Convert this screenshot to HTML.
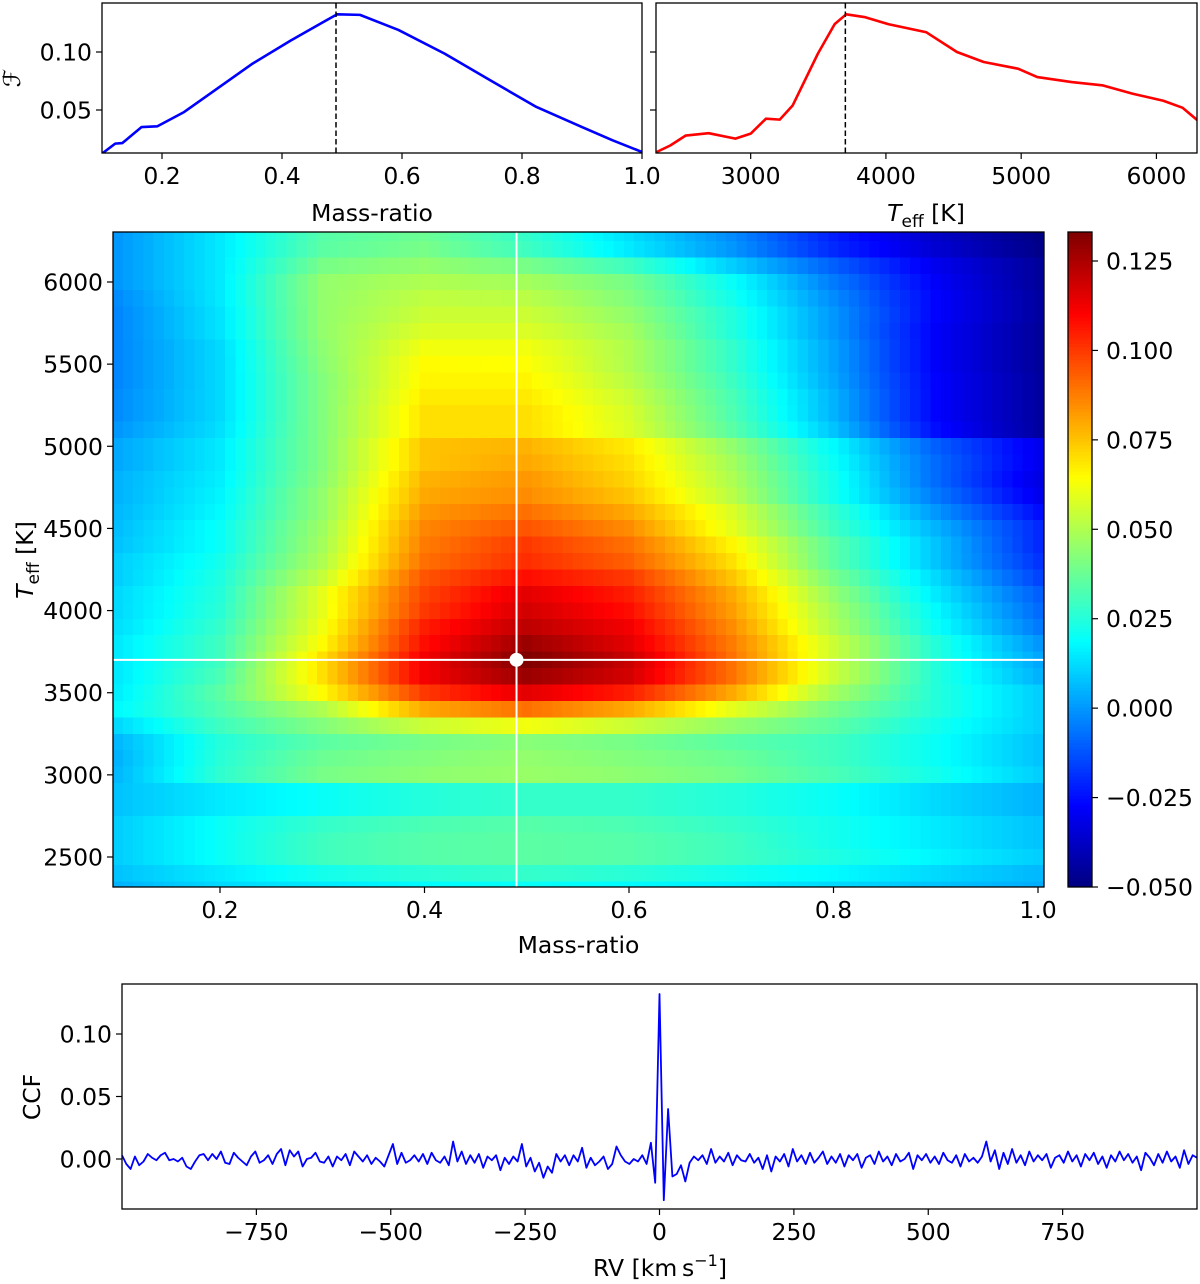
<!DOCTYPE html>
<html><head><meta charset="utf-8">
<style>
html,body{margin:0;padding:0;background:#fff;}
svg{display:block;font-family:"DejaVu Sans","Liberation Sans",sans-serif;}
text{font-size:23.5px;fill:#000;}
</style></head>
<body>
<svg id="fig" width="1200" height="1284" viewBox="0 0 1200 1284" xmlns="http://www.w3.org/2000/svg"></svg>
<script>
// ---------- DATA ----------
const qMarg = [0.1,0.122,0.134,0.166,0.192,0.237,0.288,0.351,0.415,0.466,0.492,0.530,0.594,0.671,0.747,0.824,0.900,0.951,1.0];
const fqMarg = [0.0124,0.021,0.0215,0.0353,0.0359,0.0483,0.067,0.090,0.110,0.125,0.1325,0.132,0.119,0.0986,0.0756,0.0526,0.0353,0.0239,0.0138];
const tMarg = [2305,2407,2520,2689,2887,3000,3113,3215,3311,3497,3621,3706,3847,4017,4299,4525,4723,4977,5119,5373,5599,5825,6051,6192,6305];
const ftMarg = [0.0138,0.0195,0.028,0.030,0.0253,0.0296,0.0425,0.0417,0.054,0.0986,0.124,0.1325,0.130,0.124,0.117,0.100,0.0914,0.0856,0.0784,0.0741,0.0713,0.064,0.058,0.052,0.041];
const bestQ = 0.49;
const bestT = 3700;
// heatmap columns (mass ratio) and rows (Teff, top to bottom)
const hmQ = [0.1,0.2,0.3,0.4,0.5,0.6,0.7,0.8,0.9,1.0];
const hmT = [6300,6200,6100,6000,5900,5800,5700,5600,5500,5400,5300,5200,5100,5000,4900,4800,4700,4600,4500,4400,4300,4200,4100,4000,3900,3800,3700,3600,3500,3400,3300,3200,3100,3000,2900,2800,2700,2600,2500,2400,2300];
const hmF = [
[0.0,0.015,0.034,0.038,0.028,0.013,-0.002,-0.022,-0.037,-0.049],
[0.0,0.015,0.035,0.04,0.03,0.015,0.0,-0.02,-0.035,-0.048],
[0.0,0.015,0.04,0.045,0.04,0.03,0.01,-0.01,-0.03,-0.045],
[0.0,0.015,0.045,0.05,0.048,0.04,0.02,-0.005,-0.028,-0.045],
[-0.002,0.015,0.045,0.053,0.052,0.042,0.022,-0.002,-0.027,-0.044],
[-0.003,0.014,0.045,0.055,0.055,0.045,0.025,0.0,-0.027,-0.044],
[-0.003,0.014,0.045,0.058,0.058,0.048,0.025,0.0,-0.028,-0.045],
[-0.003,0.012,0.044,0.062,0.062,0.05,0.028,0.002,-0.028,-0.045],
[-0.003,0.012,0.043,0.065,0.064,0.05,0.028,0.002,-0.028,-0.045],
[-0.003,0.012,0.042,0.066,0.066,0.052,0.03,0.003,-0.027,-0.044],
[-0.002,0.012,0.042,0.068,0.068,0.055,0.032,0.005,-0.027,-0.044],
[-0.002,0.012,0.042,0.07,0.07,0.057,0.033,0.005,-0.027,-0.044],
[0.0,0.013,0.042,0.07,0.07,0.058,0.035,0.008,-0.025,-0.044],
[0.003,0.015,0.042,0.075,0.078,0.068,0.045,0.018,-0.01,-0.03],
[0.003,0.015,0.042,0.075,0.08,0.07,0.048,0.02,-0.008,-0.03],
[0.005,0.016,0.043,0.078,0.083,0.072,0.05,0.022,-0.008,-0.032],
[0.005,0.017,0.045,0.08,0.085,0.075,0.052,0.022,-0.005,-0.03],
[0.006,0.018,0.045,0.083,0.09,0.08,0.058,0.028,0.0,-0.025],
[0.007,0.02,0.047,0.086,0.095,0.085,0.06,0.03,0.005,-0.02],
[0.008,0.02,0.048,0.088,0.1,0.09,0.066,0.035,0.008,-0.02],
[0.01,0.022,0.05,0.09,0.102,0.093,0.07,0.035,0.008,-0.018],
[0.01,0.024,0.054,0.095,0.108,0.1,0.075,0.04,0.012,-0.015],
[0.012,0.025,0.06,0.098,0.115,0.105,0.08,0.045,0.015,-0.01],
[0.012,0.026,0.06,0.1,0.118,0.108,0.082,0.048,0.018,-0.008],
[0.013,0.028,0.062,0.105,0.122,0.112,0.085,0.05,0.02,-0.005],
[0.015,0.03,0.065,0.108,0.128,0.115,0.088,0.055,0.025,0.0],
[0.015,0.03,0.07,0.112,0.133,0.12,0.09,0.055,0.025,0.003],
[0.015,0.032,0.07,0.112,0.128,0.118,0.09,0.055,0.025,0.005],
[0.016,0.035,0.065,0.1,0.115,0.105,0.08,0.048,0.025,0.01],
[0.018,0.033,0.05,0.08,0.09,0.08,0.06,0.04,0.025,0.01],
[0.012,0.03,0.042,0.055,0.062,0.055,0.045,0.035,0.022,0.01],
[0.006,0.025,0.035,0.04,0.043,0.04,0.035,0.03,0.02,0.008],
[0.005,0.026,0.038,0.042,0.045,0.042,0.038,0.03,0.02,0.008],
[0.006,0.027,0.04,0.044,0.046,0.044,0.04,0.032,0.022,0.01],
[0.008,0.015,0.02,0.025,0.028,0.028,0.025,0.02,0.012,0.005],
[0.008,0.015,0.02,0.025,0.028,0.028,0.025,0.02,0.012,0.005],
[0.01,0.02,0.028,0.032,0.034,0.032,0.028,0.022,0.015,0.008],
[0.01,0.02,0.03,0.034,0.035,0.034,0.03,0.022,0.015,0.008],
[0.01,0.02,0.03,0.034,0.035,0.034,0.03,0.024,0.017,0.01],
[0.008,0.015,0.022,0.026,0.028,0.026,0.022,0.018,0.012,0.006],
[0.005,0.012,0.015,0.018,0.02,0.018,0.016,0.012,0.008,0.004]
];
// CCF: rv from -1000 step 8
const rvStart = -1000, rvStep = 8;
const ccfMilli = [3,-4,-8,2,-5,-2,4,1,-1,3, 5,-1,0,-2,1,-6,-8,-2,3,4, -1,4,0,6,-3,-4,5,1,-2,-5,
2,6,-3,-1,3,-4,4,8,-5,7, 2,6,-6,0,1,5,-2,-3,2,-6, 2,-1,4,-5,6,2,-2,3,-4,1,
-2,-6,3,12,-4,5,-3,-1,3,-2, 4,-4,5,-1,-3,2,-5,14,-2,6, -4,3,-3,4,-7,2,-1,3,-9,1,
-4,2,-2,12,-6,1,-10,-3,-15,-6, -11,4,-2,3,-5,3,-2,9,-7,1, -5,-2,2,-8,-4,10,3,-2,-4,0,
-2,3,-4,13,-19,132,-33,40,-14,-12, -5,-18,-3,2,-1,3,-4,8,-3,2, -2,5,-5,3,-1,-2,4,-3,1,-8,
3,-10,2,-2,4,-6,8,-2,3,-4, 5,-3,1,6,-4,2,-3,4,-6,3, -1,4,-7,1,3,-4,6,-2,2,-5,
4,-2,0,5,-8,3,-1,4,-3,2, -4,5,-1,-3,3,-6,4,-2,1,-3, 2,14,-2,7,-8,5,-4,8,-3,3,
-5,6,-2,3,-1,4,-7,1,3,-3, 6,-2,3,-6,4,-1,5,-4,2,-7, 3,-2,6,-1,4,-3,2,-9,5,1,
-5,4,-3,6,-2,2,-7,7,-4,3,1];
const topQTicks = [0.2,0.4,0.6,0.8,1.0];
const topTTicks = [3000,4000,5000,6000];
const topFTicks = [0.05,0.10];
const mainQTicks = [0.2,0.4,0.6,0.8,1.0];
const mainTTicks = [2500,3000,3500,4000,4500,5000,5500,6000];
const cbTicks = [-0.05,-0.025,0,0.025,0.05,0.075,0.1,0.125];
const rvTicks = [-750,-500,-250,0,250,500,750];
const ccfTicks = [0.0,0.05,0.10];

// ---------- helpers ----------
const NS="http://www.w3.org/2000/svg";
const svg=document.getElementById('fig');
function el(tag,attrs,parent){const e=document.createElementNS(NS,tag);for(const k in attrs)e.setAttribute(k,attrs[k]);(parent||svg).appendChild(e);return e;}
function lin(d0,d1,r0,r1){return v=>r0+(v-d0)/(d1-d0)*(r1-r0);}
function fmt(v,d){let s=v.toFixed(d);if(v<0)s='\u2212'+(-v).toFixed(d);return s;}
function jet(t){t=Math.max(0,Math.min(1,t));const c=x=>Math.round(255*Math.max(0,Math.min(1,x)));
 return `rgb(${c(1.5-Math.abs(4*t-3))},${c(1.5-Math.abs(4*t-2))},${c(1.5-Math.abs(4*t-1))})`;}
function txt(x,y,s,anchor,parent){const t=el('text',{x:x,y:y,'text-anchor':anchor||'middle'},parent);t.textContent=s;return t;}
function frame(x0,y0,x1,y1,name){const r=el('rect',{x:x0,y:y0,width:x1-x0,height:y1-y0,fill:'none',stroke:'#000','stroke-width':1.3});

return r;}
function xtick(x,y,lab,name){const g=el('g',{});


el('line',{x1:x,x2:x,y1:y,y2:y+6,stroke:'#000','stroke-width':1.2},g);if(lab!==null)txt(x,y+31,lab,'middle',g);}
function ytick(x,y,lab,name){const g=el('g',{});


el('line',{x1:x-6,x2:x,y1:y,y2:y,stroke:'#000','stroke-width':1.2},g);if(lab!==null)txt(x-10,y+8.5,lab,'end',g);}
function path(xs,ys,sx,sy,color,w,name,clip){let d='';for(let i=0;i<xs.length;i++)d+=(i?'L':'M')+sx(xs[i]).toFixed(2)+','+sy(ys[i]).toFixed(2);
const p=el('path',{d:d,fill:'none',stroke:color,'stroke-width':w,'stroke-linejoin':'round'});if(clip)p.setAttribute('clip-path',clip);

return p;}
const defs=el('defs',{});
function clipRect(id,x0,y0,x1,y1){const c=el('clipPath',{id:id},defs);el('rect',{x:x0,y:y0,width:x1-x0,height:y1-y0},c);}

// ---------- top-left: F vs mass ratio ----------
{const X0=102,X1=642,Y0=3,Y1=153;
 const sx=lin(0.1,1.0,X0,X1), sy=lin(0.05,0.10,110,52);
 clipRect('c1',X0,Y0,X1,Y1);
 path(qMarg,fqMarg,sx,sy,'#0000ff',2.6,'mass-ratio-curve','url(#c1)');
 const dl=el('line',{x1:sx(bestQ),x2:sx(bestQ),y1:Y0,y2:Y1,stroke:'#000','stroke-width':1.5,'stroke-dasharray':'5.5,3'});
 
 
 frame(X0,Y0,X1,Y1,'mass-ratio-panel');
 topQTicks.forEach(v=>xtick(sx(v),Y1,v.toFixed(1),'x-tick'));
 topFTicks.forEach(v=>ytick(X0,sy(v),v.toFixed(2),'y-tick'));
 const xl=txt((X0+X1)/2,221,'Mass-ratio');
 
 
 const yl=txt(0,0,'\u2131');yl.setAttribute('transform','translate(20,78) rotate(-90)');yl.setAttribute('font-style','italic');
 
 
}
// ---------- top-right: F vs Teff ----------
{const X0=656,X1=1197,Y0=3,Y1=153;
 const sx=lin(2300,6300,X0,X1), sy=lin(0.05,0.10,110,52);
 clipRect('c2',X0,Y0,X1,Y1);
 path(tMarg,ftMarg,sx,sy,'#ff0000',2.6,'teff-curve','url(#c2)');
 const dl=el('line',{x1:sx(bestT),x2:sx(bestT),y1:Y0,y2:Y1,stroke:'#000','stroke-width':1.5,'stroke-dasharray':'5.5,3'});
 
 
 frame(X0,Y0,X1,Y1,'teff-panel');
 topTTicks.forEach(v=>xtick(sx(v),Y1,String(v),'x-tick'));
 topFTicks.forEach(v=>ytick(X0,sy(v),null,'y-tick'));
 const g=el('text',{x:926,y:221,'text-anchor':'middle'});
 g.innerHTML='<tspan font-style="italic">T</tspan><tspan font-size="17" dy="6">eff</tspan><tspan dy="-6"> [K]</tspan>';
 
 
}
// ---------- main heatmap ----------
{const X0=113,X1=1044,Y0=232,Y1=887;
 const sx=lin(0.2,1.0,220,1038), sy=lin(2500,6000,857,282);
 const vmin=-0.05,vmax=0.133;
 clipRect('c3',X0,Y0,X1,Y1);
 const hg=el('g',{'clip-path':'url(#c3)','shape-rendering':'crispEdges'});
 
 
 const dq=0.01, dT=hmT[0]-hmT[1];
 hmT.forEach((T,r)=>{
  const yTop=sy(T+dT/2), yBot=sy(T-dT/2);
  for(let k=0;k<=90;k++){
   const q=0.1+k*dq;
   let j=Math.min(hmQ.length-2,Math.floor((q-hmQ[0])/(hmQ[1]-hmQ[0])+1e-9));
   const f=(q-hmQ[j])/(hmQ[j+1]-hmQ[j]);
   const v=hmF[r][j]*(1-f)+hmF[r][j+1]*f;
   el('rect',{x:sx(q-dq/2).toFixed(2),y:yTop.toFixed(2),width:(sx(q+dq/2)-sx(q-dq/2)+0.6).toFixed(2),height:(yBot-yTop+0.6).toFixed(2),fill:jet((v-vmin)/(vmax-vmin))},hg);
  }
 });
 const vl=el('line',{x1:sx(bestQ),x2:sx(bestQ),y1:Y0,y2:Y1,stroke:'#fff','stroke-width':2});
 
 
 const hl=el('line',{x1:X0,x2:X1,y1:sy(bestT),y2:sy(bestT),stroke:'#fff','stroke-width':2});
 
 
 const dot=el('circle',{cx:sx(bestQ),cy:sy(bestT),r:7,fill:'#fff'});
 
 
 frame(X0,Y0,X1,Y1,'heatmap-panel');
 mainQTicks.forEach(v=>xtick(sx(v),Y1,v.toFixed(1),'x-tick'));
 mainTTicks.forEach(v=>ytick(X0,sy(v),String(v),'y-tick'));
 const xl=txt((X0+X1)/2,953,'Mass-ratio');
 
 
 const yl=el('text',{'text-anchor':'middle',transform:'translate(33,560) rotate(-90)'});
 yl.innerHTML='<tspan font-style="italic">T</tspan><tspan font-size="17" dy="6">eff</tspan><tspan dy="-6"> [K]</tspan>';
 
 
 // colorbar
 const CX0=1068,CX1=1092;
 const sc=lin(-0.05,0.125,887,261);
 const cg=el('g',{'shape-rendering':'crispEdges'});
 
 
 const N=200;
 for(let i=0;i<N;i++){const y0=Y1-(i+1)*(Y1-Y0)/N;el('rect',{x:CX0,y:y0.toFixed(2),width:CX1-CX0,height:((Y1-Y0)/N+0.6).toFixed(2),fill:jet((i+0.5)/N)},cg);}
 frame(CX0,Y0,CX1,Y1,'colorbar-frame');
 cbTicks.forEach(v=>{const g=el('g',{});
  
  
  const y=sc(v);el('line',{x1:CX1,x2:CX1+6,y1:y,y2:y,stroke:'#000','stroke-width':1.2},g);txt(CX1+14,y+8.5,fmt(v,3),'start',g);});
}
// ---------- bottom: CCF ----------
{const X0=122,X1=1197,Y0=984,Y1=1209;
 const sx=lin(-1000,1000,X0,X1), sy=lin(0,0.10,1159,1034);
 const rv=ccfMilli.map((_,i)=>rvStart+i*rvStep), cc=ccfMilli.map(v=>v/1000);
 clipRect('c4',X0,Y0,X1,Y1);
 path(rv,cc,sx,sy,'#0000ff',1.8,'ccf-line','url(#c4)');
 frame(X0,Y0,X1,Y1,'ccf-panel');
 rvTicks.forEach(v=>xtick(sx(v),Y1,fmt(v,0),'x-tick'));
 ccfTicks.forEach(v=>ytick(X0,sy(v),v.toFixed(2),'y-tick'));
 const xl=el('text',{x:660,y:1276,'text-anchor':'middle'});
 xl.innerHTML='RV [km\u2009s<tspan font-size="16" dy="-10">\u22121</tspan><tspan dy="10">]</tspan>';
 
 
 const yl=txt(0,0,'CCF');yl.setAttribute('transform','translate(40,1097) rotate(-90)');
 
 
}
</script>
</body></html>
